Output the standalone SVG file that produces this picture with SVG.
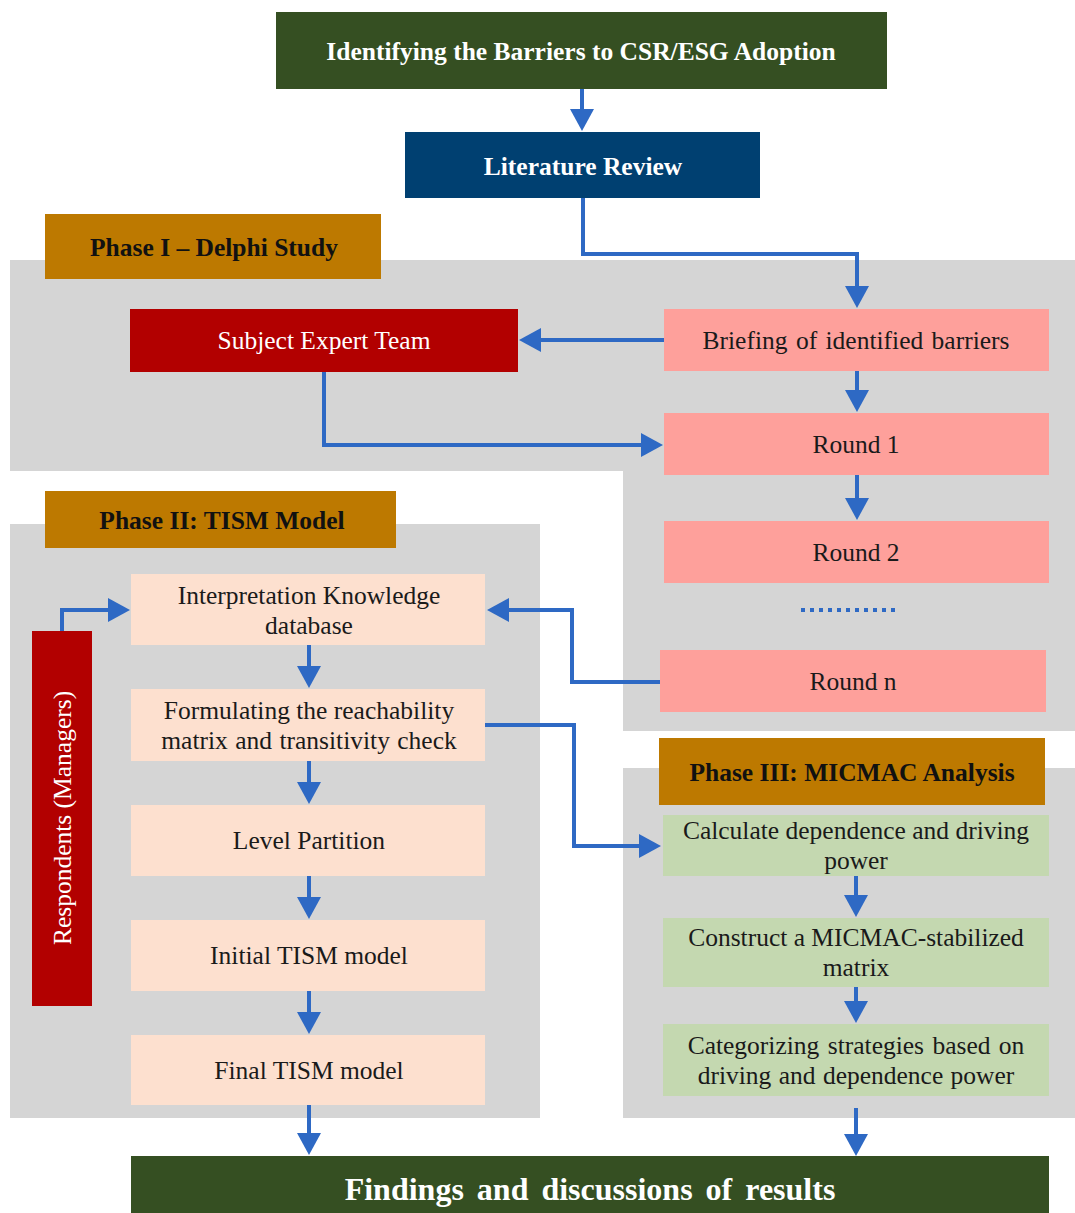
<svg xmlns="http://www.w3.org/2000/svg" width="1075" height="1213" viewBox="0 0 1075 1213">
  <style>
    .t { text-anchor: middle; }
    .body { font-size: 25.5px; fill: #1a1a1a; }
    .white { fill: #ffffff; }
    .bold { font-weight: bold; }
    .phase { font-size: 25.5px; font-weight: bold; fill: #111111; }
    .head { font-size: 25.5px; font-weight: bold; fill: #ffffff; }
    .panel { fill: #d5d5d5; }
    .peach { fill: #fde0cf; }
    .pink { fill: #fea09b; }
    .green { fill: #c4d8b0; }
    .gold { fill: #bd7900; }
    .red { fill: #b20000; }
    .conn { fill: none; stroke: #2e69c4; stroke-width: 4; }
  </style>
  <defs>
    <marker id="arrow" markerUnits="userSpaceOnUse" markerWidth="22" markerHeight="24" viewBox="0 0 22 24" refX="1" refY="12" orient="auto">
      <path d="M0,0 L22,12 L0,24 z" fill="#2e69c4"/>
    </marker>
  </defs>

  <rect width="1075" height="1213" fill="#ffffff"/>

  <!-- phase panels -->
  <g id="panel-phase1">
    <path class="panel" d="M10,260 H1075 V731 H623 V471 H10 Z"/>
  </g>
  <g id="panel-phase2">
    <rect class="panel" x="10" y="524" width="530" height="594"/>
  </g>
  <g id="panel-phase3">
    <rect class="panel" x="623" y="768" width="452" height="350"/>
  </g>

  <!-- connectors -->
  <g id="connectors">
    <path class="conn" d="M582,89 V110" marker-end="url(#arrow)"/>
    <path class="conn" d="M583,198 V254 H857 V287" marker-end="url(#arrow)"/>
    <path class="conn" d="M664,340 H540" marker-end="url(#arrow)"/>
    <path class="conn" d="M857,371 V391" marker-end="url(#arrow)"/>
    <path class="conn" d="M324,372 V445 H642" marker-end="url(#arrow)"/>
    <path class="conn" d="M857,475 V499" marker-end="url(#arrow)"/>
    <line x1="801" y1="610" x2="899" y2="610" stroke="#2e69c4" stroke-width="4" stroke-dasharray="4 5"/>
    <path class="conn" d="M660,682 H572 V610 H508" marker-end="url(#arrow)"/>
    <path class="conn" d="M62,631 V610 H109" marker-end="url(#arrow)"/>
    <path class="conn" d="M309,645 V667" marker-end="url(#arrow)"/>
    <path class="conn" d="M309,761 V783" marker-end="url(#arrow)"/>
    <path class="conn" d="M309,876 V898" marker-end="url(#arrow)"/>
    <path class="conn" d="M309,991 V1013" marker-end="url(#arrow)"/>
    <path class="conn" d="M309,1105 V1134" marker-end="url(#arrow)"/>
    <path class="conn" d="M485,725 H574 V846 H640" marker-end="url(#arrow)"/>
    <path class="conn" d="M856,876 V896" marker-end="url(#arrow)"/>
    <path class="conn" d="M856,987 V1002" marker-end="url(#arrow)"/>
    <path class="conn" d="M856,1108 V1135" marker-end="url(#arrow)"/>
  </g>

  <!-- nodes -->
  <g id="identifying-barriers">
    <rect x="276" y="12" width="611" height="77" fill="#354f22"/>
    <text class="t head" font-family="'Liberation Serif', serif" x="581" y="60">Identifying the Barriers to CSR/ESG Adoption</text>
  </g>
  <g id="literature-review">
    <rect x="405" y="132" width="355" height="66" fill="#004071"/>
    <text class="t head" font-family="'Liberation Serif', serif" x="583" y="175">Literature Review</text>
  </g>

  <g id="phase1-label">
    <rect class="gold" x="45" y="214" width="336" height="65"/>
    <text class="t phase" font-family="'Liberation Serif', serif" x="214" y="256">Phase I – Delphi Study</text>
  </g>
  <g id="subject-expert-team">
    <rect class="red" x="130" y="309" width="388" height="63"/>
    <text class="t body white" font-family="'Liberation Serif', serif" x="324" y="349">Subject Expert Team</text>
  </g>
  <g id="briefing">
    <rect class="pink" x="664" y="309" width="385" height="62"/>
    <text class="t body" font-family="'Liberation Serif', serif" x="856" y="349" word-spacing="2">Briefing of identified barriers</text>
  </g>
  <g id="round-1">
    <rect class="pink" x="664" y="413" width="385" height="62"/>
    <text class="t body" font-family="'Liberation Serif', serif" x="856" y="453">Round 1</text>
  </g>
  <g id="round-2">
    <rect class="pink" x="664" y="521" width="385" height="62"/>
    <text class="t body" font-family="'Liberation Serif', serif" x="856" y="561">Round 2</text>
  </g>
  <g id="round-n">
    <rect class="pink" x="660" y="650" width="386" height="62"/>
    <text class="t body" font-family="'Liberation Serif', serif" x="853" y="690">Round n</text>
  </g>

  <g id="phase2-label">
    <rect class="gold" x="45" y="491" width="351" height="57"/>
    <text class="t phase" font-family="'Liberation Serif', serif" x="222" y="529">Phase II: TISM Model</text>
  </g>
  <g id="respondents">
    <rect class="red" x="32" y="631" width="60" height="375"/>
    <text class="t body white" font-family="'Liberation Serif', serif" transform="translate(71,818) rotate(-90)">Respondents (Managers)</text>
  </g>
  <g id="interpretation-knowledge">
    <rect class="peach" x="131" y="574" width="354" height="71"/>
    <text class="t body" font-family="'Liberation Serif', serif" x="309" y="604">Interpretation Knowledge</text>
    <text class="t body" font-family="'Liberation Serif', serif" x="309" y="634">database</text>
  </g>
  <g id="reachability-matrix">
    <rect class="peach" x="131" y="689" width="354" height="72"/>
    <text class="t body" font-family="'Liberation Serif', serif" x="309" y="719">Formulating the reachability</text>
    <text class="t body" font-family="'Liberation Serif', serif" x="309" y="749" word-spacing="1">matrix and transitivity check</text>
  </g>
  <g id="level-partition">
    <rect class="peach" x="131" y="805" width="354" height="71"/>
    <text class="t body" font-family="'Liberation Serif', serif" x="309" y="849">Level Partition</text>
  </g>
  <g id="initial-tism">
    <rect class="peach" x="131" y="920" width="354" height="71"/>
    <text class="t body" font-family="'Liberation Serif', serif" x="309" y="964">Initial TISM model</text>
  </g>
  <g id="final-tism">
    <rect class="peach" x="131" y="1035" width="354" height="70"/>
    <text class="t body" font-family="'Liberation Serif', serif" x="309" y="1079">Final TISM model</text>
  </g>

  <g id="phase3-label">
    <rect class="gold" x="659" y="738" width="386" height="67"/>
    <text class="t phase" font-family="'Liberation Serif', serif" x="852" y="781">Phase III: MICMAC Analysis</text>
  </g>
  <g id="calculate-power">
    <rect class="green" x="663" y="815" width="386" height="61"/>
    <text class="t body" font-family="'Liberation Serif', serif" x="856" y="839">Calculate dependence and driving</text>
    <text class="t body" font-family="'Liberation Serif', serif" x="856" y="869">power</text>
  </g>
  <g id="micmac-matrix">
    <rect class="green" x="663" y="918" width="386" height="69"/>
    <text class="t body" font-family="'Liberation Serif', serif" x="856" y="946">Construct a MICMAC-stabilized</text>
    <text class="t body" font-family="'Liberation Serif', serif" x="856" y="976">matrix</text>
  </g>
  <g id="categorizing">
    <rect class="green" x="663" y="1024" width="386" height="72"/>
    <text class="t body" font-family="'Liberation Serif', serif" x="856" y="1054" word-spacing="2">Categorizing strategies based on</text>
    <text class="t body" font-family="'Liberation Serif', serif" x="856" y="1084" word-spacing="1">driving and dependence power</text>
  </g>

  <g id="findings">
    <rect x="131" y="1156" width="918" height="57" fill="#354f22"/>
    <text class="t bold white" font-family="'Liberation Serif', serif" x="590" y="1200" font-size="32" word-spacing="5">Findings and discussions of results</text>
  </g>
</svg>
